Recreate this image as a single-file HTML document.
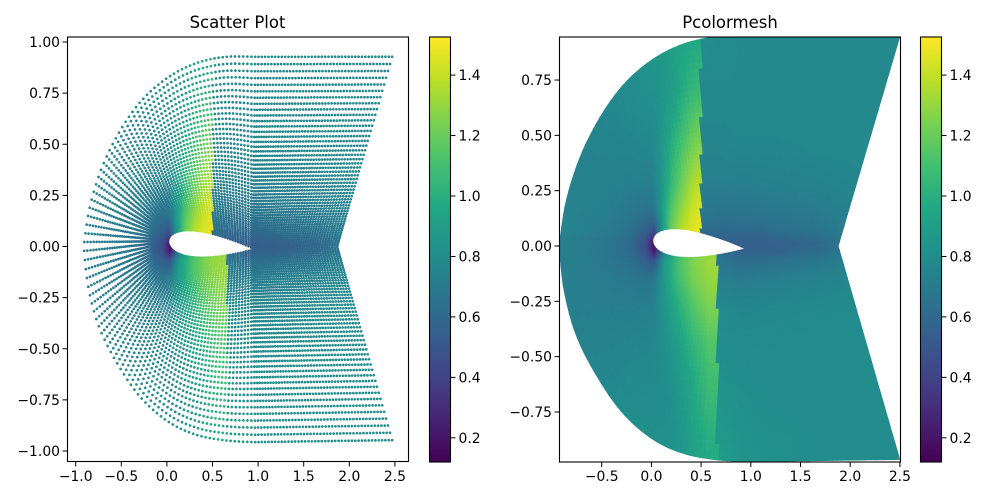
<!DOCTYPE html>
<html><head><meta charset="utf-8"><style>
html,body{margin:0;padding:0;background:#fff;}
svg{display:block;font-family:"DejaVu Sans","Liberation Sans",sans-serif;}
</style></head><body>
<svg id="fig" width="1000" height="500" viewBox="0 0 1000 500" xmlns="http://www.w3.org/2000/svg">
<defs>
<linearGradient id="vgrad" x1="0" y1="1" x2="0" y2="0"></linearGradient>
<clipPath id="clipL"><rect x="67.5" y="37" width="341" height="424.5"/></clipPath>
<clipPath id="clipR"><rect x="559.5" y="37" width="341" height="425"/></clipPath>
</defs>
<rect width="1000" height="500" fill="#fff"/>
<g id="scatterMarks" clip-path="url(#clipL)"></g>
<g id="meshMarks" clip-path="url(#clipR)"></g>
<g id="axesG"></g>
<text x="237.5" y="28" font-size="16.5" text-anchor="middle">Scatter Plot</text>
<text x="730" y="28" font-size="16.5" text-anchor="middle">Pcolormesh</text>
</svg>
<script>
// ---- data: Mach-like field values ----
const VMIN = 0.12;
const VMAX = 1.526;
const cbarTicks = [0.2, 0.4, 0.6, 0.8, 1.0, 1.2, 1.4];
const xEdgesUpper = [-1, -0.6, -0.3, -0.1, 0.0, 0.05, 0.15, 0.25, 0.35, 0.43, 0.5, 0.55, 0.8, 1.0, 1.4, 1.9, 2.6];
const yEdgesAbs = [0, 0.04, 0.1, 0.2, 0.35, 0.5, 0.65, 0.8, 1.05];
const upperRow0 = [0.72,0.68,0.6,0.45,0.2,0.6,1.1,1.3,1.4,1.45,0.55,0.55,0.54,0.55,0.6,0.75];
const upperRow1 = [0.74,0.7,0.64,0.55,0.45,0.8,1.2,1.36,1.44,1.48,0.62,0.6,0.6,0.62,0.66,0.75];
const upperRow2 = [0.74,0.72,0.68,0.64,0.66,0.85,1.15,1.3,1.4,1.45,0.68,0.66,0.66,0.68,0.7,0.76];
const upperRow3 = [0.74,0.74,0.72,0.72,0.74,0.85,1.05,1.2,1.32,1.38,0.72,0.72,0.72,0.73,0.74,0.77];
const upperRow4 = [0.74,0.75,0.75,0.76,0.78,0.85,1.0,1.12,1.22,1.28,0.75,0.75,0.76,0.76,0.77,0.78];
const upperRow5 = [0.75,0.76,0.78,0.8,0.8,0.86,0.93,1.03,1.12,1.17,0.77,0.77,0.78,0.78,0.78,0.78];
const upperRow6 = [0.76,0.78,0.8,0.82,0.83,0.85,0.88,0.96,1.02,1.05,0.78,0.78,0.78,0.78,0.78,0.78];
const upperRow7 = [0.78,0.8,0.82,0.84,0.86,0.88,0.9,0.94,0.96,0.97,0.8,0.79,0.78,0.78,0.78,0.78];
const upperShockIndex = 10;
const xEdgesLower = [-1, -0.6, -0.3, -0.1, 0.0, 0.05, 0.2, 0.35, 0.5, 0.66, 0.8, 1.0, 1.4, 1.9, 2.6];
const lowerRow0 = [0.72,0.68,0.6,0.45,0.2,0.7,1.05,1.2,1.28,0.6,0.55,0.55,0.6,0.75];
const lowerRow1 = [0.72,0.68,0.64,0.55,0.5,0.88,1.12,1.26,1.32,0.66,0.62,0.64,0.68,0.76];
const lowerRow2 = [0.72,0.7,0.68,0.66,0.7,0.88,1.1,1.24,1.3,0.72,0.7,0.72,0.74,0.78];
const lowerRow3 = [0.72,0.72,0.72,0.72,0.74,0.85,1.0,1.15,1.25,0.78,0.76,0.77,0.78,0.79];
const lowerRow4 = [0.74,0.74,0.75,0.76,0.77,0.82,0.92,1.05,1.15,0.8,0.79,0.79,0.8,0.8];
const lowerRow5 = [0.75,0.76,0.78,0.78,0.78,0.8,0.88,0.98,1.1,0.82,0.8,0.8,0.8,0.8];
const lowerRow6 = [0.76,0.78,0.8,0.8,0.8,0.8,0.85,0.95,1.05,0.85,0.82,0.8,0.8,0.8];
const lowerRow7 = [0.78,0.8,0.82,0.82,0.82,0.82,0.85,0.92,0.98,0.88,0.84,0.82,0.8,0.8];
const lowerShockIndex = 9;
const leftXTicks = [-1.0,-0.5,0.0,0.5,1.0,1.5,2.0,2.5];
const leftYTicks = [-1.0,-0.75,-0.5,-0.25,0.0,0.25,0.5,0.75,1.0];
const rightXTicks = [-0.5,0.0,0.5,1.0,1.5,2.0,2.5];
const rightYTicks = [-0.75,-0.5,-0.25,0.0,0.25,0.5,0.75];

const upperTable=[upperRow0,upperRow1,upperRow2,upperRow3,upperRow4,upperRow5,upperRow6,upperRow7];
const lowerTable=[lowerRow0,lowerRow1,lowerRow2,lowerRow3,lowerRow4,lowerRow5,lowerRow6,lowerRow7];

// ---- colormap ----
const VIR=["#440154","#482475","#414487","#355f8d","#2a788e","#21918c","#22a884","#44bf70","#7ad151","#bddf26","#fde725"];
function hex(h){return [parseInt(h.substr(1,2),16),parseInt(h.substr(3,2),16),parseInt(h.substr(5,2),16)];}
const VIRC=VIR.map(hex);
function vir(v){let n=(v-VMIN)/(VMAX-VMIN);n=Math.max(0,Math.min(1,n));const f=n*10;const i=Math.min(9,Math.floor(f));const r=f-i;const a=VIRC[i],b=VIRC[i+1];
return "rgb("+Math.round(a[0]+(b[0]-a[0])*r)+","+Math.round(a[1]+(b[1]-a[1])*r)+","+Math.round(a[2]+(b[2]-a[2])*r)+")";}
const grad=document.getElementById('vgrad');
VIR.forEach((c,i)=>{const s=document.createElementNS("http://www.w3.org/2000/svg","stop");s.setAttribute('offset',(i/10));s.setAttribute('stop-color',c);grad.appendChild(s);});

function centers(e){const c=[];for(let i=0;i<e.length-1;i++)c.push((e[i]+e[i+1])/2);return c;}
function interp1(cs,lo,hi,x){ // returns [i, frac] within index range lo..hi
  if(x<=cs[lo])return [lo,0]; if(x>=cs[hi])return [hi,0];
  let i=lo;while(i<hi-1&&x>cs[i+1])i++; return [i,(x-cs[i])/(cs[i+1]-cs[i])];}
function lookup(x,y,upper){
  const xe=upper?xEdgesUpper:xEdgesLower, tb=upper?upperTable:lowerTable, si=upper?upperShockIndex:lowerShockIndex;
  const cx=centers(xe), cy=centers(yEdgesAbs);
  const ay=Math.abs(y);
  const lo = x<xe[si]?0:si, hi = x<xe[si]?si-1:cx.length-1;
  const [i,fx]=interp1(cx,lo,hi,x);
  const [j,fy]=interp1(cy,0,cy.length-1,ay);
  const i2=Math.min(i+1,hi), j2=Math.min(j+1,cy.length-1);
  const a=tb[j][i]*(1-fx)+tb[j][i2]*fx, b=tb[j2][i]*(1-fx)+tb[j2][i2]*fx;
  return a*(1-fy)+b*fy;
}

// ---- mesh geometry (C-grid) ----
const outerUpPts=[[-0.93,0],[-0.86,0.2],[-0.72,0.4],[-0.52,0.58],[-0.28,0.73],[0.0,0.84],[0.3,0.91],[0.62,0.944],[0.95,0.946]];
const outerLoPts=[[-0.93,0],[-0.88,-0.2],[-0.76,-0.4],[-0.56,-0.58],[-0.3,-0.75],[0.0,-0.87],[0.3,-0.935],[0.62,-0.965],[0.95,-0.975]];
function catmull(pts,n){const out=[];for(let i=0;i<pts.length-1;i++){const p0=pts[Math.max(0,i-1)],p1=pts[i],p2=pts[i+1],p3=pts[Math.min(pts.length-1,i+2)];
  for(let k=0;k<n;k++){const t=k/n,t2=t*t,t3=t2*t;out.push([0,1].map(d=>0.5*((2*p1[d])+(-p0[d]+p2[d])*t+(2*p0[d]-5*p1[d]+4*p2[d]-p3[d])*t2+(-p0[d]+3*p1[d]-3*p2[d]+p3[d])*t3)));}}
  out.push(pts[pts.length-1]);return out;}
const outerUp=catmull(outerUpPts,20), outerLo=catmull(outerLoPts,20);
function polyAt(pts,f){let L=[0];for(let i=1;i<pts.length;i++)L.push(L[i-1]+Math.hypot(pts[i][0]-pts[i-1][0],pts[i][1]-pts[i-1][1]));
  const T=L[L.length-1]*f;let i=1;while(i<pts.length-1&&L[i]<T)i++;const r=(T-L[i-1])/(L[i]-L[i-1]||1);
  return [pts[i-1][0]+(pts[i][0]-pts[i-1][0])*r,pts[i-1][1]+(pts[i][1]-pts[i-1][1])*r];}
function thick(x){const t=0.136;return 5*t*(0.2969*Math.sqrt(x)-0.126*x-0.3516*x*x+0.2843*x*x*x-0.1036*x*x*x*x);}
const NA=50,NW=42,NJ=50;
const cols=[];
for(let k=NW;k>=1;k--){const w=k/NW;cols.push({p:[0.94+0.94*Math.pow(w,1.3),-0.012*(1-w)],q:[0.95+1.55*w,-0.975+0.01*w],up:false});}
for(let k=NA;k>=0;k--){const u=k/NA;const xf=1-Math.cos(Math.PI*u/2);const yc=0.024-0.036*xf;cols.push({p:[0.015+0.925*xf,yc-thick(xf)*0.925],q:polyAt(outerLo,u),up:false});}
for(let k=1;k<=NA;k++){const u=k/NA;const xf=1-Math.cos(Math.PI*u/2);const yc=0.024-0.036*xf;cols.push({p:[0.015+0.925*xf,yc+thick(xf)*0.925],q:polyAt(outerUp,u),up:true});}
for(let k=1;k<=NW;k++){const w=k/NW;cols.push({p:[0.94+0.94*Math.pow(w,1.3),-0.012*(1-w)],q:[0.95+1.55*w,0.946],up:true});}
const b=1.5;
const tj=[];for(let j=0;j<=NJ;j++)tj.push((Math.exp(b*j/NJ)-1)/(Math.exp(b)-1));
function gp(c,j){const C=cols[c];return [C.p[0]+(C.q[0]-C.p[0])*tj[j],C.p[1]+(C.q[1]-C.p[1])*tj[j]];}

// ---- axis functions ----
const L={x0:166.9,sx:91.2,y0:246.5,sy:204.5};
const R={x0:651.4,sx:99.4,y0:246,sy:221.3};
function lx(v){return L.x0+v*L.sx;} function ly(v){return L.y0-v*L.sy;}
function rx(v){return R.x0+v*R.sx;} function ry(v){return R.y0-v*R.sy;}

let sc=[], pm=[];
for(let c=0;c<cols.length-1;c++)for(let j=0;j<NJ;j++){const a=gp(c,j),bq=gp(c+1,j),cc=gp(c+1,j+1),d=gp(c,j+1);
  const cx=(a[0]+bq[0]+cc[0]+d[0])/4,cy=(a[1]+bq[1]+cc[1]+d[1])/4;const up=cols[c].up&&cols[c+1].up;
  const col=vir(lookup(cx,cy,up));
  const pts=[a,bq,cc,d].map(p=>rx(p[0]).toFixed(1)+","+ry(p[1]).toFixed(1)).join(" ");
  pm.push('<polygon points="'+pts+'" fill="'+col+'" stroke="'+col+'" stroke-width="0.6"/>');
  sc.push('<circle cx="'+lx(cx).toFixed(1)+'" cy="'+ly(cy).toFixed(1)+'" r="1.35" fill="'+col+'"/>');}
const sg=document.getElementById('scatterMarks');sg.innerHTML=sc.join('');
sg.querySelectorAll('circle').forEach(e=>{

});
const mg=document.getElementById('meshMarks');mg.innerHTML=pm.join('');
mg.querySelectorAll('polygon').forEach(e=>{

});

// axes
const ax=document.getElementById('axesG');let h=[];
function fmt(v,d){const s=Math.abs(v).toFixed(d);return (v<0?"\u2212":"")+s;}
function frame(x1,y1,x2,y2,name){h.push('<rect x="'+x1+'" y="'+y1+'" width="'+(x2-x1)+'" height="'+(y2-y1)+'" fill="none" stroke="#000" stroke-width="1.1"/>');}
frame(67.5,37,408.5,461.5,'scatter-axes-frame');
frame(559.5,37,900.5,462,'pcolormesh-axes-frame');
leftXTicks.forEach(v=>{const x=lx(v);h.push('<line x1="'+x+'" y1="461.5" x2="'+x+'" y2="466.5" stroke="#000"/><text x="'+x+'" y="481" font-size="13.9" text-anchor="middle">'+fmt(v,1)+'</text>');});
leftYTicks.forEach(v=>{const y=ly(v);h.push('<line x1="62.5" y1="'+y+'" x2="67.5" y2="'+y+'" stroke="#000"/><text x="60" y="'+(y+5)+'" font-size="13.9" text-anchor="end">'+fmt(v,2)+'</text>');});
rightXTicks.forEach(v=>{const x=rx(v);h.push('<line x1="'+x+'" y1="462" x2="'+x+'" y2="467" stroke="#000"/><text x="'+x+'" y="481" font-size="13.9" text-anchor="middle">'+fmt(v,1)+'</text>');});
rightYTicks.forEach(v=>{const y=ry(v);h.push('<line x1="554.5" y1="'+y+'" x2="559.5" y2="'+y+'" stroke="#000"/><text x="552" y="'+(y+5)+'" font-size="13.9" text-anchor="end">'+fmt(v,2)+'</text>');});
function cbar(x,name){const top=37,bot=462;h.push('<rect x="'+x+'" y="'+top+'" width="21" height="'+(bot-top)+'" fill="url(#vgrad)" stroke="#000" stroke-width="1.1"/>');
  cbarTicks.forEach(v=>{const y=bot-(v-VMIN)/(VMAX-VMIN)*(bot-top);h.push('<line x1="'+(x+21)+'" y1="'+y+'" x2="'+(x+26)+'" y2="'+y+'" stroke="#000"/><text x="'+(x+29)+'" y="'+(y+5)+'" font-size="13.9">'+v.toFixed(1)+'</text>');});}
cbar(429.5,'scatter-colorbar');
cbar(920.5,'pcolormesh-colorbar');
ax.innerHTML=h.join('');
</script>
</body></html>
